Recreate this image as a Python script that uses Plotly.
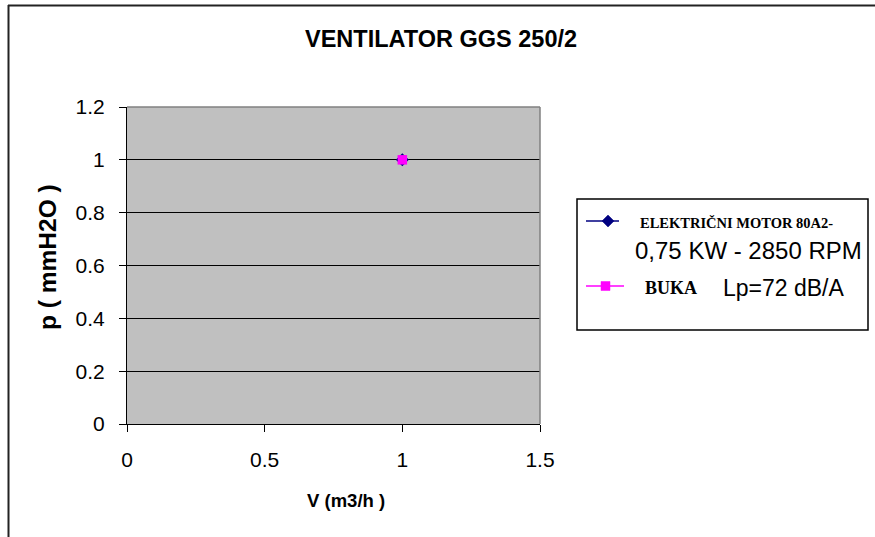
import plotly.graph_objects as go

# Data
motor_x = [1]
motor_y = [1]
buka_x = [1]
buka_y = [1]
x_ticks = [0, 0.5, 1, 1.5]
y_ticks = [0, 0.2, 0.4, 0.6, 0.8, 1, 1.2]
title = "VENTILATOR GGS 250/2"
x_title = "V (m3/h )"
y_title = "p ( mmH2O )"
legend_motor_1 = "ELEKTRIČNI MOTOR 80A2-"
legend_motor_2 = "0,75 KW - 2850 RPM"
legend_buka_1 = "BUKA"
legend_buka_2 = "Lp=72 dB/A"

W, H = 875, 537
L, R, T, B = 127, 540, 107, 424

def px(x):
    return (x - L) / (R - L)

def py(y):
    return (B - y) / (B - T)

fig = go.Figure()
fig.add_trace(go.Scatter(x=motor_x, y=motor_y, mode="markers",
                         marker=dict(symbol="diamond", size=10, color="#000080"),
                         showlegend=False, hoverinfo="skip"))
fig.add_trace(go.Scatter(x=buka_x, y=buka_y, mode="markers",
                         marker=dict(symbol="square", size=9.5, color="#FF00FF"),
                         showlegend=False, hoverinfo="skip"))

sans = "Liberation Sans, Arial, sans-serif"
serif = "Liberation Serif, Times New Roman, serif"

fig.update_layout(
    width=W, height=H,
    margin=dict(l=L, r=W - R, t=T, b=H - B),
    paper_bgcolor="white",
    plot_bgcolor="#c0c0c0",
    showlegend=False,
    xaxis=dict(range=[0, 1.5], tickvals=x_ticks, ticktext=[str(v) for v in x_ticks],
               showgrid=False, zeroline=False, showline=True, linecolor="black", linewidth=1,
               ticks="outside", ticklen=7, tickcolor="black", ticklabelstandoff=10,
               tickfont=dict(family=sans, size=21, color="black")),
    yaxis=dict(range=[0, 1.2], tickvals=y_ticks, ticktext=[str(v) for v in y_ticks],
               showgrid=True, gridcolor="black", gridwidth=1, zeroline=False,
               showline=True, linecolor="black", linewidth=1,
               ticks="outside", ticklen=7, tickcolor="black", ticklabelstandoff=10,
               tickfont=dict(family=sans, size=21, color="black")),
)

shapes = []
# Plot area top & right border (gray)
shapes.append(dict(type="line", xref="paper", yref="paper", x0=0, x1=1, y0=1, y1=1,
                   line=dict(color="#808080", width=1.5)))
shapes.append(dict(type="line", xref="paper", yref="paper", x0=1, x1=1, y0=0, y1=1,
                   line=dict(color="#808080", width=1.5)))
# Chart frame: top & left
shapes.append(dict(type="line", xref="paper", yref="paper", x0=px(8), x1=px(875), y0=py(5.5), y1=py(5.5),
                   line=dict(color="#222222", width=2)))
shapes.append(dict(type="line", xref="paper", yref="paper", x0=px(8.5), x1=px(8.5), y0=py(5), y1=py(537),
                   line=dict(color="#222222", width=2)))
# Legend box
shapes.append(dict(type="rect", xref="paper", yref="paper", x0=px(577), x1=px(868), y0=py(330), y1=py(199),
                   line=dict(color="black", width=1.5), fillcolor="white", layer="below"))
# Legend line 1
shapes.append(dict(type="line", xref="paper", yref="paper", x0=px(586), x1=px(619), y0=py(221), y1=py(221),
                   line=dict(color="#000080", width=1.5)))
shapes.append(dict(type="path", xref="paper", yref="paper",
                   path="M {} {} L {} {} L {} {} L {} {} Z".format(px(608), py(215), px(614), py(221), px(608), py(227), px(602), py(221)),
                   fillcolor="#000080", line=dict(color="#000080", width=0.5)))
# Legend line 2
shapes.append(dict(type="line", xref="paper", yref="paper", x0=px(586), x1=px(624), y0=py(286), y1=py(286),
                   line=dict(color="#FF00FF", width=1.5)))
shapes.append(dict(type="rect", xref="paper", yref="paper", x0=px(601), x1=px(610), y0=py(290.5), y1=py(281.5),
                   fillcolor="#FF00FF", line=dict(color="#FF00FF", width=0.5)))
fig.update_layout(shapes=shapes)

ann = [
    dict(text="<b>" + title + "</b>", x=px(441), y=py(39), xanchor="center", yanchor="middle",
         font=dict(family=sans, size=23.5, color="black")),
    dict(text="<b>" + x_title + "</b>", x=px(346), y=py(500), xanchor="center", yanchor="middle",
         font=dict(family=sans, size=18.5, color="black")),
    dict(text="<b>" + y_title + "</b>", x=px(47), y=py(257), xanchor="center", yanchor="middle",
         textangle=-90, font=dict(family=sans, size=24.5, color="black")),
    dict(text="<b>" + legend_motor_1 + "</b>", x=px(638), y=py(223), xanchor="left", yanchor="middle",
         font=dict(family=serif, size=14.5, color="black")),
    dict(text=legend_motor_2, x=px(633), y=py(250), xanchor="left", yanchor="middle",
         font=dict(family=sans, size=24, color="black")),
    dict(text="<b>" + legend_buka_1 + "</b>", x=px(643), y=py(288), xanchor="left", yanchor="middle",
         font=dict(family=serif, size=18, color="black")),
    dict(text=legend_buka_2, x=px(721), y=py(288), xanchor="left", yanchor="middle",
         font=dict(family=sans, size=23, color="black")),
]
for a in ann:
    a.update(xref="paper", yref="paper", showarrow=False)
fig.update_layout(annotations=ann)

fig.write_html("out.html", config={"displayModeBar": False},
               post_script="document.body.style.margin='0px';")
